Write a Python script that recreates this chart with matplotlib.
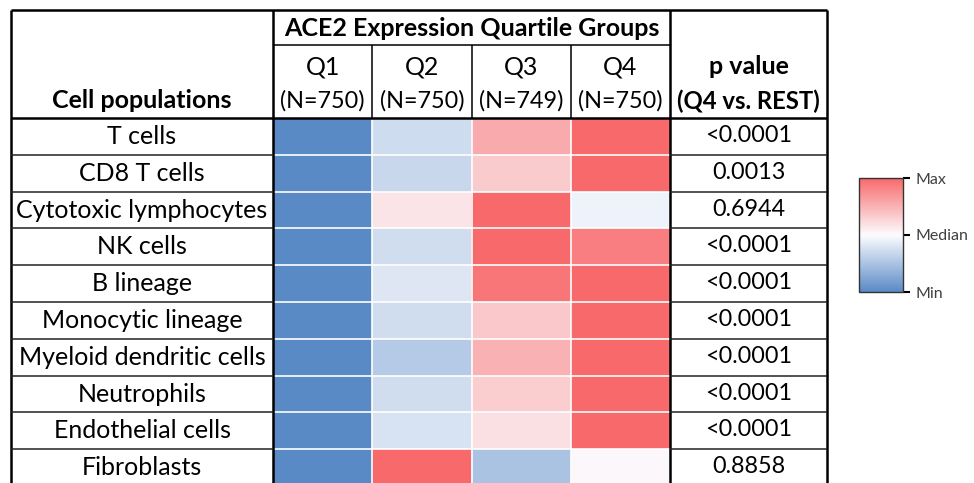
import matplotlib.pyplot as plt
from matplotlib.colors import LinearSegmentedColormap, Normalize
import numpy as np

# Data
cell_pops = ["T cells", "CD8 T cells", "Cytotoxic lymphocytes", "NK cells", "B lineage",
             "Monocytic lineage", "Myeloid dendritic cells", "Neutrophils",
             "Endothelial cells", "Fibroblasts"]
quartiles = ["Q1", "Q2", "Q3", "Q4"]
group_n = ["(N=750)", "(N=750)", "(N=749)", "(N=750)"]
p_values = ["<0.0001", "0.0013", "0.6944", "<0.0001", "<0.0001",
            "<0.0001", "<0.0001", "<0.0001", "<0.0001", "0.8858"]
# relative score: -1 = min, 0 = median, 1 = max
q1 = [-1, -1, -1, -1, -1, -1, -1, -1, -1, -1]
q2 = [-0.28, -0.32, 0.16, -0.27, -0.18, -0.27, -0.43, -0.27, -0.22, 1]
q3 = [0.55, 0.33, 1, 1, 0.9, 0.35, 0.5, 0.32, 0.18, -0.5]
q4 = [1, 1, -0.08, 0.85, 1, 1, 1, 1, 1, 0.03]

plt.rcParams['font.family'] = ['Lato', 'DejaVu Sans']

cmap = LinearSegmentedColormap.from_list("excel3", ["#5A8AC6", "#FCFCFF", "#F8696B"])
norm = Normalize(-1, 1)

fig = plt.figure(figsize=(9.74, 4.83), dpi=100)
ax = fig.add_axes([0, 0, 1, 1])
ax.set_xlim(0, 974)
ax.set_ylim(483, 0)
ax.axis('off')

# table geometry (pixels)
x_left, x_lab, x_p, x_right = 11, 273, 670, 827
col_w = (x_p - x_lab) / 4
y_top, y_mid, y_head = 10, 45, 118
rh = 36.8
n = len(cell_pops)
y_bot = y_head + n * rh

vals = np.array([q1, q2, q3, q4]).T
ax.imshow(vals, cmap=cmap, norm=norm, aspect='auto', interpolation='nearest',
          extent=(x_lab, x_p, y_bot, y_head), zorder=1)

# white separators inside heatmap
for i in range(1, n):
    ax.hlines(y_head + i * rh, x_lab, x_p, color='white', lw=1.2, zorder=2)
for j in range(1, 4):
    ax.vlines(x_lab + j * col_w, y_head, y_bot, color='white', lw=1.2, zorder=2)

# table lines
lw_thick, lw_thin = 1.8, 1.1
ax.hlines(y_top, x_left, x_right, color='black', lw=lw_thick, zorder=3)
ax.hlines(y_head, x_left, x_right, color='black', lw=lw_thick, zorder=3)
ax.hlines(y_mid, x_lab, x_p, color='black', lw=lw_thin, zorder=3)
for x in [x_left, x_lab, x_p, x_right]:
    ax.vlines(x, y_top, y_bot, color='black', lw=lw_thick, zorder=3)
for j in range(1, 4):
    ax.vlines(x_lab + j * col_w, y_mid, y_head, color='black', lw=lw_thin, zorder=3)
for i in range(1, n):
    y = y_head + i * rh
    ax.hlines(y, x_left, x_lab, color='#222222', lw=lw_thin, zorder=3)
    ax.hlines(y, x_p, x_right, color='#222222', lw=lw_thin, zorder=3)

fs = 18
fs_num = 16.8
# headers
ax.text((x_lab + x_p) / 2, (y_top + y_mid) / 2 + 1, "ACE2 Expression Quartile Groups",
        ha='center', va='center', fontsize=fs, fontweight='bold')
ax.text((x_left + x_lab) / 2, 101, "Cell populations", ha='center', va='center',
        fontsize=fs, fontweight='bold')
ax.text((x_p + x_right) / 2, 67, "p value", ha='center', va='center',
        fontsize=fs, fontweight='bold')
ax.text((x_p + x_right) / 2, 101, "(Q4 vs. REST)", ha='center', va='center',
        fontsize=fs_num + 0.4, fontweight='bold')
for j, (q, nn) in enumerate(zip(quartiles, group_n)):
    cx = x_lab + (j + 0.5) * col_w
    ax.text(cx, 67, q, ha='center', va='center', fontsize=fs)
    ax.text(cx, 101, nn, ha='center', va='center', fontsize=fs_num)

# rows
for i, (name, pv) in enumerate(zip(cell_pops, p_values)):
    cy = y_head + (i + 0.5) * rh
    ax.text((x_left + x_lab) / 2, cy, name, ha='center', va='center', fontsize=fs)
    ax.text((x_p + x_right) / 2, cy - 1, pv, ha='center', va='center', fontsize=fs_num)

# colour legend
cax = fig.add_axes([859 / 974, 1 - 292 / 483, 44 / 974, 114 / 483])
sm = plt.cm.ScalarMappable(norm=norm, cmap=cmap)
cb = fig.colorbar(sm, cax=cax, ticks=[-1, 0, 1])
cb.ax.set_yticklabels(["Min", "Median", "Max"], fontsize=11.5, color='#404040')
cb.ax.tick_params(length=5, width=1.5, color='black', pad=4)
cb.outline.set_edgecolor('#333333')
cb.outline.set_linewidth(1.0)

fig.savefig("out.png", dpi=100)
